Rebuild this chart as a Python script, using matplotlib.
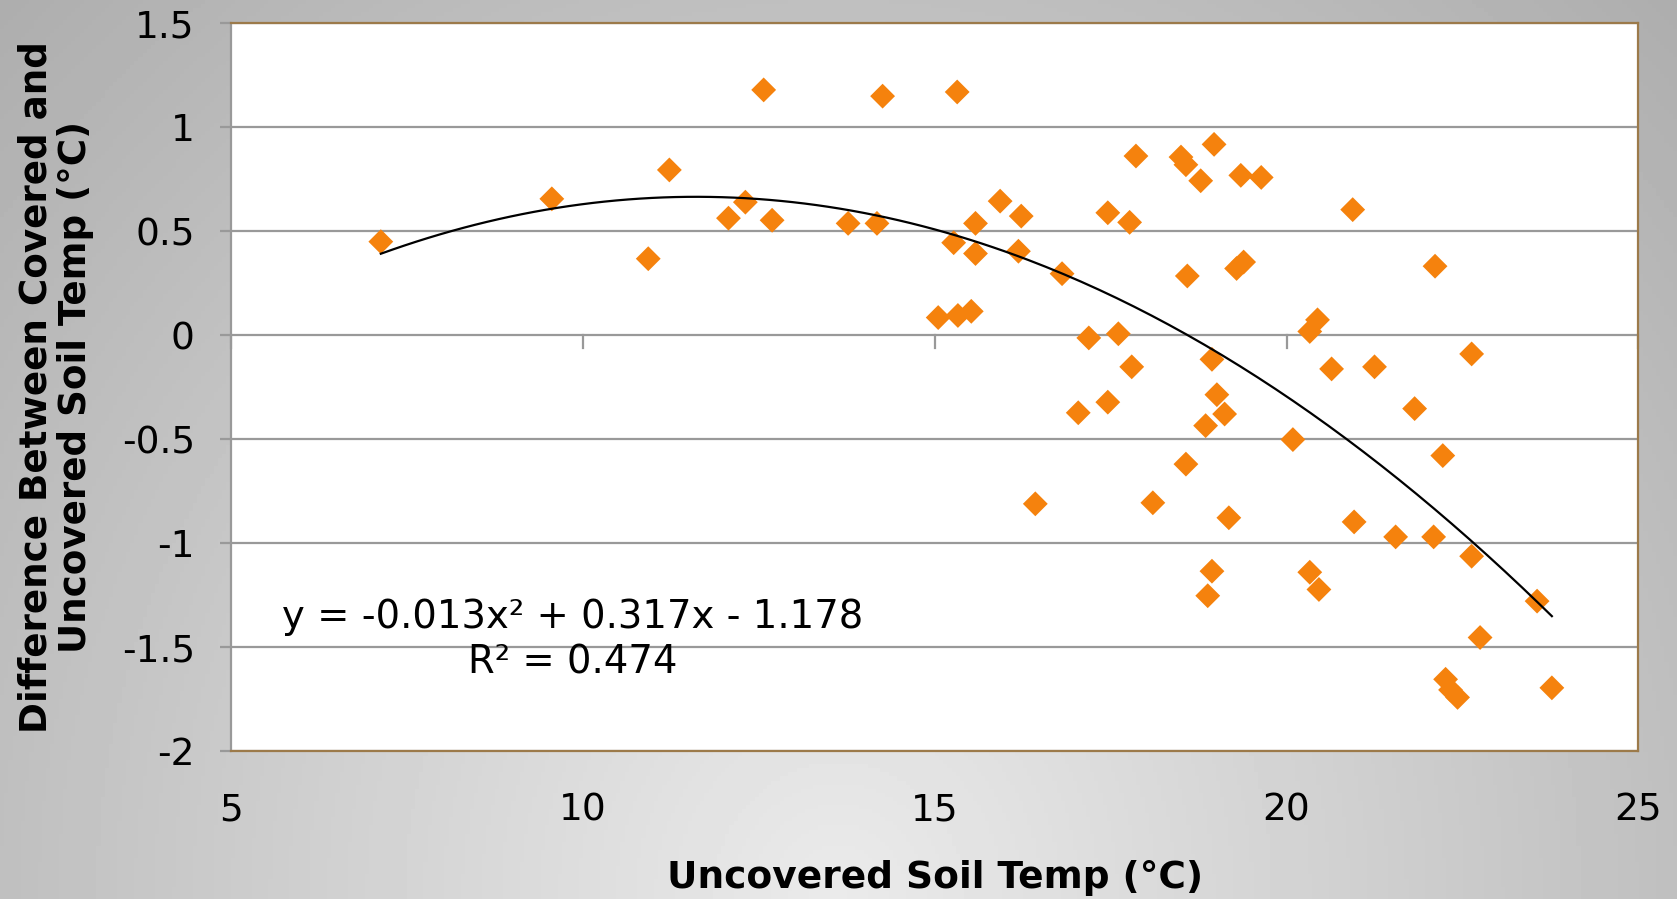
import numpy as np
import matplotlib.pyplot as plt

# uncovered soil temp (x) vs difference covered - uncovered (y)
soil_temp = [7.13, 9.56, 10.93, 11.23, 12.07, 12.31, 12.57, 12.69, 13.77, 14.18,
             14.26, 15.05, 15.27, 15.32, 15.33, 15.52, 15.58, 15.58, 15.93, 16.19,
             16.23, 16.43, 16.81, 17.04, 17.19, 17.46, 17.46, 17.61, 17.77, 17.80,
             17.86, 18.10, 18.50, 18.57, 18.59, 18.57, 18.78, 18.85, 18.88, 18.94,
             18.94, 18.97, 19.01, 19.12, 19.18, 19.29, 19.35, 19.39, 19.64, 20.09,
             20.33, 20.33, 20.44, 20.46, 20.64, 20.94, 20.96, 21.25, 21.55, 21.82,
             22.09, 22.11, 22.22, 22.26, 22.33, 22.43, 22.63, 22.63, 22.75, 23.56,
             23.77]
temp_diff = [0.45, 0.656, 0.368, 0.795, 0.563, 0.64, 1.18, 0.553, 0.538, 0.538,
             1.15, 0.085, 0.445, 1.17, 0.095, 0.115, 0.538, 0.393, 0.645, 0.404,
             0.573, -0.811, 0.296, -0.373, -0.013, 0.589, -0.322, 0.007, 0.543, -0.152,
             0.862, -0.806, 0.857, 0.82, 0.285, -0.62, 0.743, -0.435, -1.253, -0.116,
             -1.135, 0.918, -0.286, -0.379, -0.878, 0.321, 0.769, 0.352, 0.759, -0.502,
             0.018, -1.14, 0.074, -1.223, -0.162, 0.604, -0.898, -0.152, -0.97, -0.353,
             -0.97, 0.332, -0.579, -1.655, -1.706, -1.742, -0.09, -1.063, -1.454, -1.279,
             -1.696]

x_ticks = [5, 10, 15, 20, 25]
y_ticks = [-2, -1.5, -1, -0.5, 0, 0.5, 1, 1.5]
eq_text = "y = -0.013x² + 0.317x - 1.178"
r2_text = "R² = 0.474"

fig = plt.figure(figsize=(16.77, 8.99), dpi=100)

# grey gradient background, lighter towards bottom centre
bg = fig.add_axes([0, 0, 1, 1], zorder=-10)
gx, gy = np.meshgrid(np.linspace(0, 1, 400), np.linspace(0, 1, 220))
dist = np.sqrt(((gx - 0.5) * 2) ** 2 + (gy * 1.0) ** 2) / np.sqrt(2)
shade = np.clip(0.92 - 0.24 * dist, 0, 1)
bg.imshow(shade, cmap="gray", vmin=0, vmax=1, origin="lower", aspect="auto",
          extent=[0, 1, 0, 1])
bg.axis("off")

ax = fig.add_axes([0.1377, 0.1646, 0.8393, 0.8094])
ax.set_facecolor("white")

ax.scatter(soil_temp, temp_diff, marker="D", s=160, color="#f5820d",
           edgecolors="none", zorder=3)

# 2nd order polynomial trendline
coef = np.polyfit(soil_temp, temp_diff, 2)
xs = np.linspace(min(soil_temp), max(soil_temp), 200)
ax.plot(xs, np.polyval(coef, xs), color="black", lw=1.6, zorder=4)

ax.set_xlim(5, 25)
ax.set_ylim(-2, 1.5)
ax.set_xticks(x_ticks)
ax.set_yticks(y_ticks)
ax.set_yticklabels([f"{t:g}" for t in y_ticks])

ax.grid(axis="y", color="#999999", lw=1.6, zorder=1)
ax.set_axisbelow(True)

# horizontal axis crosses at y = 0 with its tick marks hanging below
for t in x_ticks:
    ax.plot([t, t], [0, -0.06], color="#999999", lw=1.6, zorder=2, clip_on=False)

for side in ["top", "bottom", "right"]:
    ax.spines[side].set_color("#9c7a4a")
    ax.spines[side].set_linewidth(1.6)
ax.spines["left"].set_color("#999999")
ax.spines["left"].set_linewidth(1.6)

ax.tick_params(axis="x", length=0, pad=30, labelsize=27)
ax.tick_params(axis="y", length=8, width=1.6, color="#999999", pad=18, labelsize=27)

ax.set_xlabel("Uncovered Soil Temp (°C)", fontsize=27, fontweight="bold")
ax.xaxis.set_label_coords(0.5, -0.15)
ax.set_ylabel("Difference Between Covered and\nUncovered Soil Temp (°C)",
              fontsize=26.8, fontweight="bold", linespacing=1.1)
ax.yaxis.set_label_coords(-0.097, 0.5)

ax.text(0.243, 0.184, eq_text, transform=ax.transAxes, ha="center", va="center",
        fontsize=27.8)
ax.text(0.243, 0.121, r2_text, transform=ax.transAxes, ha="center", va="center",
        fontsize=27.8)

fig.savefig("out.png", dpi=100)
